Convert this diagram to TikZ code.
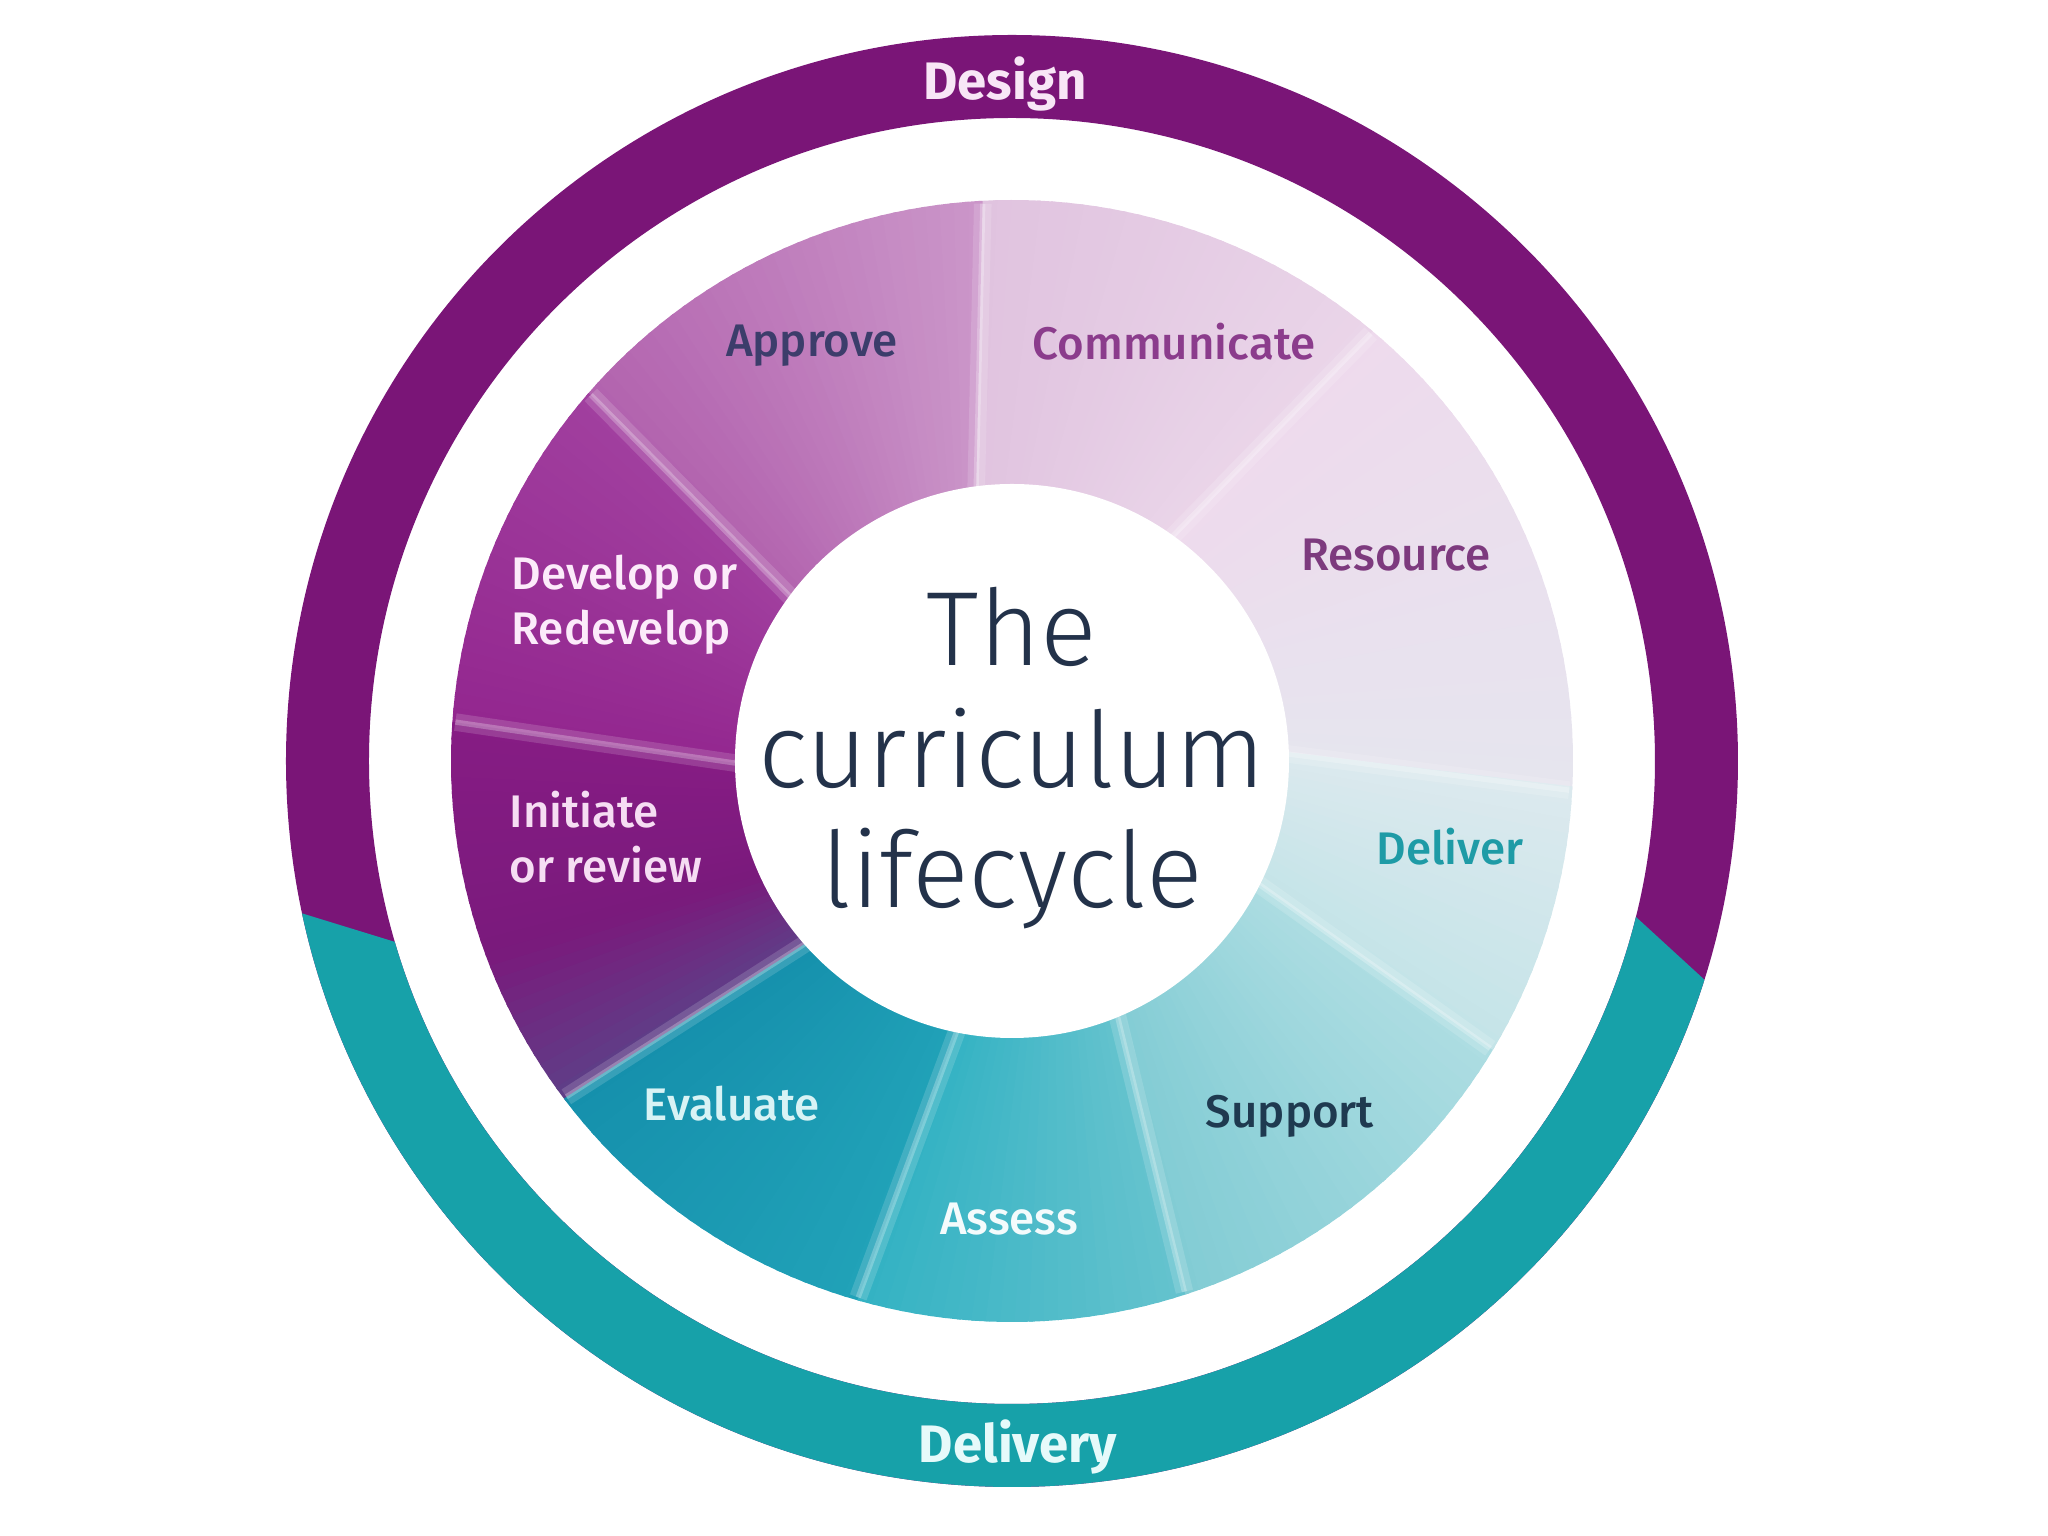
\documentclass[tikz,border=0pt]{standalone}
\usepackage{fontspec}
\setmainfont{Fira Sans}
\newfontfamily\thinfont{Fira Sans Light}
\newfontfamily\midfont{Fira Sans Medium}

\definecolor{designpurple}{HTML}{7A1577}
\definecolor{deliveryteal}{HTML}{17A1A9}
\definecolor{titlenavy}{HTML}{23324A}

\definecolor{resA}{HTML}{E6E5EE}
\definecolor{resB}{HTML}{EEDAED}
\definecolor{comA}{HTML}{EAD5E9}
\definecolor{comB}{HTML}{E0C3DF}
\definecolor{appA}{HTML}{CB96C9}
\definecolor{appB}{HTML}{B262AE}
\definecolor{devA}{HTML}{A1409F}
\definecolor{devB}{HTML}{93268F}
\definecolor{iniA}{HTML}{861C84}
\definecolor{iniB}{HTML}{7A1A7C}
\definecolor{iniC}{HTML}{5E3F88}
\definecolor{evaA}{HTML}{1590AC}
\definecolor{evaB}{HTML}{21A2B8}
\definecolor{assA}{HTML}{33B2C3}
\definecolor{assB}{HTML}{66C3CE}
\definecolor{supA}{HTML}{82CCD4}
\definecolor{supB}{HTML}{AEDDE2}
\definecolor{delA}{HTML}{C4E4E8}
\definecolor{delB}{HTML}{DCE9EE}

\definecolor{approvetxt}{HTML}{3C3D6B}
\definecolor{communicatetxt}{HTML}{8B3C8C}
\definecolor{resourcetxt}{HTML}{7D3A7E}
\definecolor{delivertxt}{HTML}{1E9BA6}
\definecolor{supporttxt}{HTML}{1F3A50}
\definecolor{assesstxt}{HTML}{F4FBFC}
\definecolor{evaluatetxt}{HTML}{D8F3F5}
\definecolor{initiatetxt}{HTML}{F6DDF3}
\definecolor{developtxt}{HTML}{FCEBFA}
\definecolor{designtxt}{HTML}{F8E6F6}
\definecolor{deliverytxt}{HTML}{E6FAFA}

\begin{document}
\begin{tikzpicture}[
  ring/.style={even odd rule},
  sepglow/.style={white, opacity=0.15, line width=5pt},
  sep/.style={white, opacity=0.25, line width=1.5pt},
  stage/.style={inner sep=0pt, font=\midfont\fontsize{13}{15.6}\selectfont},
  phase/.style={inner sep=0pt, anchor=base, font=\bfseries\fontsize{15}{18}\selectfont},
  title/.style={inner sep=0pt, anchor=base, text=titlenavy, font=\thinfont\fontsize{30}{34}\selectfont}
]
\useasboundingbox (-10.12,-7.75) rectangle (10.36,7.61);

\coordinate (O) at (0,0);

% where the outer ring changes colour
\coordinate (LO) at (-7.86,-1.29);
\coordinate (LI) at (-5.94,-1.88);
\coordinate (RI) at (6.00,-1.34);
\coordinate (RO) at (7.55,-2.76);

\fill[designpurple, ring] (O) circle (7.26) (O) circle (6.43);
\begin{scope}[ring]
\clip (O) circle (7.26) (O) circle (6.43);
\fill[deliveryteal] (LO) -- (LI) -- (RI) -- (RO) -- (8,-8) -- (-8,-8) -- cycle;
\end{scope}

% the wheel, shaded in thin slices (slightly twisted)
\foreach \a/\b/\ca/\cb in {-3/50/resA/resB, 50/93/comA/comB, 93/139/appA/appB,
    139/176/devA/devB, 176/200/iniA/iniB, 200/217/iniB/iniC, 217/254/evaA/evaB,
    254/288/assA/assB, 288/329/supA/supB, 329/357/delA/delB}{
  \pgfmathtruncatemacro{\n}{(\b-\a)/1.5+1}
  \foreach \k in {1,...,\n}{
    \pgfmathsetmacro{\s}{\a+(\k-1)*(\b-\a)/\n}
    \pgfmathsetmacro{\e}{\a+\k*(\b-\a)/\n+0.4}
    \pgfmathtruncatemacro{\p}{100*(\k-0.5)/\n}
    \fill[fill={\cb!\p!\ca}] ({\s+5}:2.6) -- (\s:5.61) arc[start angle=\s, end angle=\e, radius=5.61] -- ({\e+5}:2.6) -- cycle;
  }
}

\foreach \a in {50,93,139,176,217,254,288,329,357}{
  \draw[sepglow] ({\a+5}:2.6) -- (\a:5.58);
  \draw[sep] ({\a+5}:2.6) -- (\a:5.58);
}

\fill[white] (O) circle (2.77);

\node[title] (the) at (0,0.95) {The};
\node[title] (curr) at (0,-0.27) {curriculum};
\node[title] (life) at (0,-1.47) {lifecycle};

\node[stage, anchor=base, text=approvetxt] (approve) at (-2.00,4.04) {Approve};
\node[stage, anchor=base, text=communicatetxt] (communicate) at (1.62,4.01) {Communicate};
\node[stage, anchor=base, text=resourcetxt] (resource) at (3.84,1.90) {Resource};
\node[stage, anchor=base, text=delivertxt] (deliver) at (4.38,-1.04) {Deliver};
\node[stage, anchor=base, text=supporttxt] (support) at (2.78,-3.67) {Support};
\node[stage, anchor=base, text=assesstxt] (assess) at (-0.03,-4.74) {Assess};
\node[stage, anchor=base, text=evaluatetxt] (evaluate) at (-2.80,-3.60) {Evaluate};
\node[stage, anchor=west, align=left, text=initiatetxt] (initiate) at (-5.03,-0.76) {Initiate\\or review};
\node[stage, anchor=west, align=left, text=developtxt] (develop) at (-5.01,1.56) {Develop or\\Redevelop};

\node[phase, text=designtxt] (design) at (-0.07,6.61) {Design};
\node[phase, text=deliverytxt] (delivery) at (0.06,-7.02) {Delivery};

\end{tikzpicture}
\end{document}
